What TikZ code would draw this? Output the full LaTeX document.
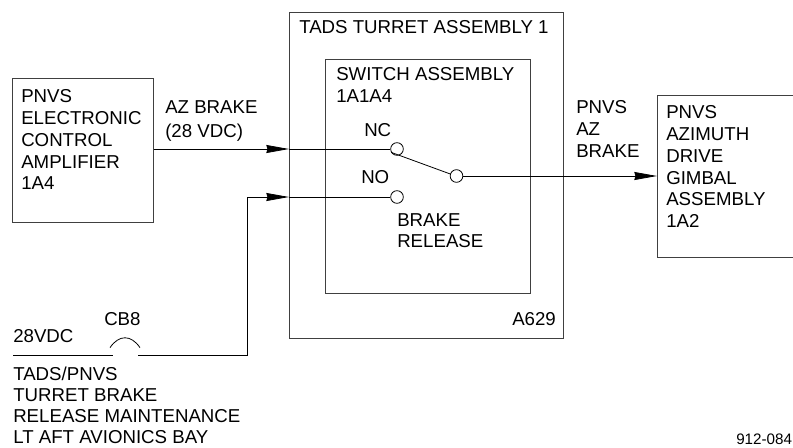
\documentclass[tikz,border=0pt]{standalone}
\usepackage{fontspec}
\setmainfont{Liberation Sans}
\usetikzlibrary{arrows.meta,positioning}
\begin{document}
\begin{tikzpicture}[
  x=0.75pt, y=-0.75pt,
  box/.style={draw=black!75, line width=0.6pt, inner sep=0pt, anchor=north west},
  txt/.style={align=left, inner sep=0pt, anchor=north west, font=\fontsize{14}{16.3}\selectfont},
  contact/.style={circle, draw, line width=0.6pt, fill=white, minimum size=9.5pt, inner sep=0pt},
  wire/.style={line width=0.6pt},
  flow/.style={-{Stealth[length=17pt, width=6pt, inset=0.8pt]}, line width=0.6pt}
]
\useasboundingbox (0,0) rectangle (793,447);
% boxes
\node[box, minimum width=141*0.75pt, minimum height=144.5*0.75pt] (amplifier) at (12,77.5) {};
\node[box, minimum width=274*0.75pt, minimum height=326*0.75pt] (turret) at (289,12) {};
\node[box, minimum width=205*0.75pt, minimum height=234.5*0.75pt] (switch) at (325,58.5) {};
\node[box, minimum width=160*0.75pt, minimum height=162*0.75pt] (gimbal) at (657,95) {};
% contacts
\node[contact] (nc) at (397,149) {};
\node[contact] (no) at (397,197) {};
\node[contact] (pivot) at (456.5,176) {};
% breaker
\coordinate (supply) at (13,355);
\coordinate (cbleft) at (113,355);
\coordinate (cbright) at (138,355);
\coordinate (corner) at (247,355);
\coordinate (arcleft) at (110,347.6);
\coordinate (arcright) at (140,347.6);
% labels
\node[txt] (amplabel) at (21,89.5) {PNVS\\ELECTRONIC\\CONTROL\\AMPLIFIER\\1A4};
\node[txt] (azbrake) at (165,100.6) {AZ BRAKE\\[1.5pt](28 VDC)};
\node[txt] (turretlabel) at (299,20) {TADS TURRET ASSEMBLY 1};
\node[txt] (switchlabel) at (336,67) {SWITCH ASSEMBLY\\1A1A4};
\node[txt] (nclabel) at (364,123.5) {NC};
\node[txt] (nolabel) at (361,170) {NO};
\node[txt] (release) at (397,213) {BRAKE\\RELEASE};
\node[txt] (a629) at (512,312.6) {A629};
\node[txt] (pnvsbrake) at (576,100.6) {PNVS\\AZ\\BRAKE};
\node[txt] (gimballabel) at (666,105.6) {PNVS\\AZIMUTH\\DRIVE\\GIMBAL\\ASSEMBLY\\1A2};
\node[txt] (cb8) at (104,312.6) {CB8};
\node[txt] (vdc) at (13,329) {28VDC};
\node[txt, font=\fontsize{14}{15.6}\selectfont] (tadslabel) at (13,367) {TADS/PNVS\\TURRET BRAKE\\RELEASE MAINTENANCE\\LT AFT AVIONICS BAY};
\node[txt, font=\fontsize{11.4}{13}\selectfont] (drawingno) at (736,434) {912-084};
% wires
\draw[flow] (amplifier.east |- nc) -- (turret.west |- nc);
\draw[wire] (turret.west |- nc) -- (nc);
\draw[flow] (pivot) -- (gimbal.west |- pivot);
\draw[wire] (supply) -- (cbleft);
\draw[wire] (cbright) -- (corner) -- (corner |- no);
\draw[flow] (corner |- no) -- (turret.west |- no);
\draw[wire] (turret.west |- no) -- (no);
\draw[wire] (nc.210) -- (pivot.162);
\draw[wire] (arcleft) .. controls (119,334.5) and (131,334.5) .. (arcright);
\end{tikzpicture}
\end{document}
